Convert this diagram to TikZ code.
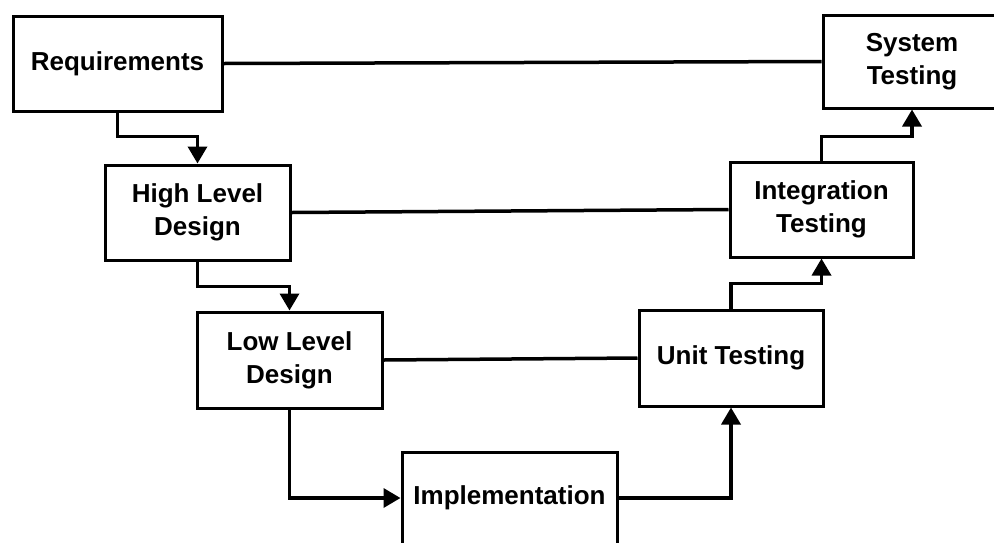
\documentclass[tikz,border=0pt]{standalone}
\usepackage{fontspec}
\setmainfont{Liberation Sans}
\usetikzlibrary{arrows.meta}

\begin{document}
\begin{tikzpicture}[x=1pt,y=-1pt,
    phase/.style={draw=black,line width=3pt,align=center,inner sep=0pt,
        font=\fontsize{26}{33}\selectfont\bfseries},
    link/.style={black,line width=3.5pt},
    flow/.style={link,-{Triangle[length=17pt,width=19pt]}}]
            \useasboundingbox (0,0) rectangle (994,542);
            \fill[white] (0,0) rectangle (994,542);

            \node[phase,minimum width=209pt,minimum height=95pt] (req) at (117.5,63.5){Requirements};
            \node[phase,minimum width=185pt,minimum height=95pt] (hld) at (197.5,212.5){High Level\\Design};
            \node[phase,minimum width=185pt,minimum height=96pt] (lld) at (289.5,360){Low Level\\Design};
            \node[phase,minimum width=215pt,minimum height=92pt] (impl) at (509.5,498){Implementation};
            \node[phase,minimum width=184pt,minimum height=96pt] (unit) at (731,358){Unit Testing};
            \node[phase,minimum width=183pt,minimum height=95pt] (int) at (821.5,209.5){Integration\\Testing};
            \node[phase,minimum width=178pt,minimum height=93pt] (sys) at (912,61.5){System\\Testing};

            \draw[flow] (req.south) -- ++(0,24) -| (hld.north);
            \draw[flow] (hld.south) -- ++(0,25) -| (lld.north);
            \draw[flow] (lld.south) |- (impl.west);
            \draw[flow] (impl.east) -| (unit.south);
            \draw[flow] (unit.north) -- ++(0,-25) -| (int.south);
            \draw[flow] (int.north) -- ++(0,-24) -| (sys.south);

            \draw[link] (req.east) -- (sys.west);
            \draw[link] (hld.east) -- (int.west);
            \draw[link] (lld.east) -- (unit.west);
        \end{tikzpicture}
\end{document}
